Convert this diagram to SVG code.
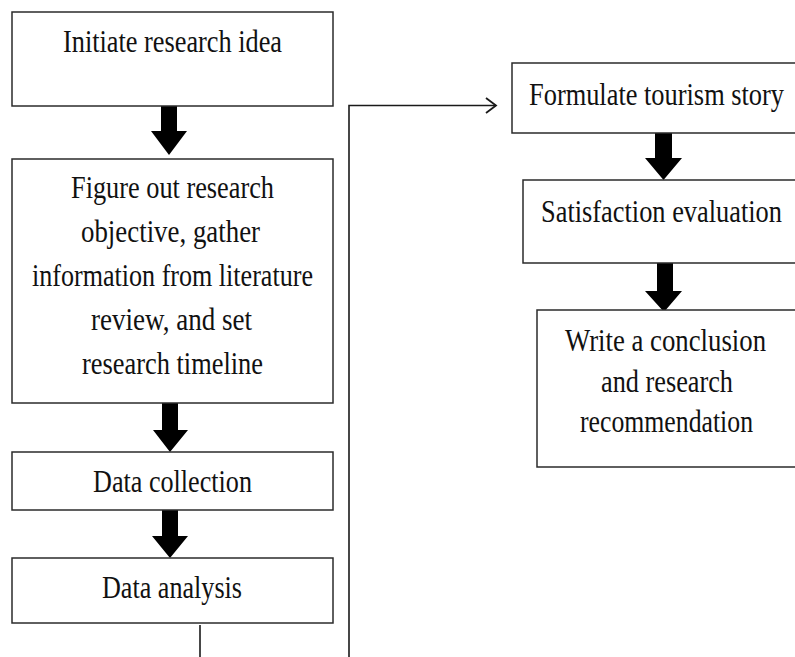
<svg xmlns="http://www.w3.org/2000/svg" width="795" height="657" viewBox="0 0 795 657">
  <defs>
    <style>
      .box { fill: #ffffff; stroke: #2b2b2b; stroke-width: 1.5; }
      .lbl { font-family: "Liberation Serif", "Times New Roman", serif; font-size: 26.2px; fill: #111111; text-anchor: middle; }
      .blk { fill: #000000; }
      .wire { fill: none; stroke: #1a1a1a; stroke-width: 1.6; }
    </style>
    <marker id="openArrow" markerWidth="14" markerHeight="18" refX="11" refY="9" orient="auto" markerUnits="userSpaceOnUse">
      <path d="M1,1.5 L11,9 L1,16.5" fill="none" stroke="#1a1a1a" stroke-width="1.8"/>
    </marker>
  </defs>
  <rect width="795" height="657" fill="#ffffff"/>

  <!-- connectors -->
  <g id="connectors">
    <polygon class="blk" points="161,106 177,106 177,131 187,131 169,155 151,131 161,131"/>
    <polygon class="blk" points="162,403 178,403 178,430 188,430 170,452 153,430 162,430"/>
    <polygon class="blk" points="162,510 178,510 178,536 188,536 170,558 152,536 162,536"/>
    <polygon class="blk" points="655,133 672,133 672,158 682,158 663.5,180 645,158 655,158"/>
    <polygon class="blk" points="657,263 673,263 673,291 682,291 664,312 645,291 657,291"/>
    <line class="wire" x1="200" y1="625" x2="200" y2="657" stroke-width="2.2"/>
    <polyline class="wire" points="349,657 349,105.5 496,105.5" marker-end="url(#openArrow)"/>
  </g>

  <!-- left column; labels are set in a tall, narrow serif (stretched vertically) -->
  <g id="initiate">
    <rect class="box" x="12" y="12" width="321" height="94"/>
    <text class="lbl" transform="translate(172.5,52) scale(1,1.22)" textLength="219" lengthAdjust="spacingAndGlyphs">Initiate research idea</text>
  </g>

  <g id="objective">
    <rect class="box" x="12" y="159" width="321" height="244"/>
    <text class="lbl" transform="translate(172.5,198) scale(1,1.22)" textLength="203" lengthAdjust="spacingAndGlyphs">Figure out research</text>
    <text class="lbl" transform="translate(170.5,242) scale(1,1.22)" textLength="179" lengthAdjust="spacingAndGlyphs">objective, gather</text>
    <text class="lbl" transform="translate(172.5,286) scale(1,1.22)" textLength="281" lengthAdjust="spacingAndGlyphs">information from literature</text>
    <text class="lbl" transform="translate(171.5,330) scale(1,1.22)" textLength="161" lengthAdjust="spacingAndGlyphs">review, and set</text>
    <text class="lbl" transform="translate(172.5,374) scale(1,1.22)" textLength="181" lengthAdjust="spacingAndGlyphs">research timeline</text>
  </g>

  <g id="collection">
    <rect class="box" x="12" y="452" width="321" height="58"/>
    <text class="lbl" transform="translate(172.5,492) scale(1,1.22)" textLength="159" lengthAdjust="spacingAndGlyphs">Data collection</text>
  </g>

  <g id="analysis">
    <rect class="box" x="12" y="558" width="321" height="65"/>
    <text class="lbl" transform="translate(172,598) scale(1,1.22)" textLength="140" lengthAdjust="spacingAndGlyphs">Data analysis</text>
  </g>

  <!-- right column: boxes run past the right page edge, so only top, left and bottom sides are drawn -->
  <g id="story">
    <path class="box" d="M795,63 H512 V133 H795"/>
    <text class="lbl" transform="translate(656.5,105) scale(1,1.22)" textLength="255" lengthAdjust="spacingAndGlyphs">Formulate tourism story</text>
  </g>

  <g id="satisfaction">
    <path class="box" d="M795,180 H523 V263 H795"/>
    <text class="lbl" transform="translate(661.5,222) scale(1,1.22)" textLength="241" lengthAdjust="spacingAndGlyphs">Satisfaction evaluation</text>
  </g>

  <g id="conclusion">
    <path class="box" d="M795,310 H537 V467 H795"/>
    <text class="lbl" transform="translate(665.5,351) scale(1,1.22)" textLength="201" lengthAdjust="spacingAndGlyphs">Write a conclusion</text>
    <text class="lbl" transform="translate(667,392) scale(1,1.22)" textLength="132" lengthAdjust="spacingAndGlyphs">and research</text>
    <text class="lbl" transform="translate(666.5,432) scale(1,1.22)" textLength="173" lengthAdjust="spacingAndGlyphs">recommendation</text>
  </g>
</svg>
